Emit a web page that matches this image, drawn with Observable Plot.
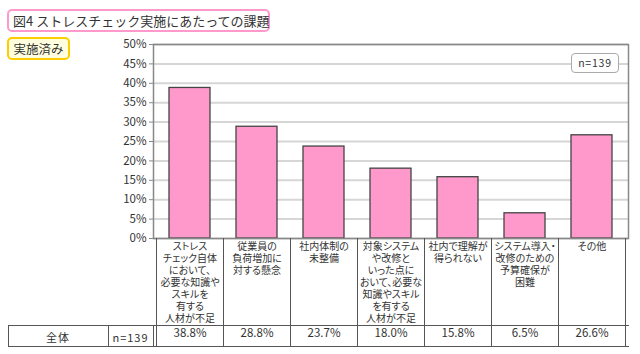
<!DOCTYPE html>
<html>
<head>
<meta charset="utf-8">
<script src="https://cdn.jsdelivr.net/npm/d3@7"></script>
<script src="https://cdn.jsdelivr.net/npm/@observablehq/plot@0.6"></script>
<style>
  html, body { margin: 0; padding: 0; background: #fff; }
  #wrap { position: relative; width: 640px; height: 354px; overflow: hidden; font-family: "Noto Sans CJK JP", sans-serif; color: #333; }
  #wrap svg { position: absolute; left: 0; top: 0; }
  .title { position: absolute; left: 7px; top: 9px; width: 255px; height: 19px; border: 2px solid #ff99cc; border-radius: 5px; background: #fff; font-size: 13px; line-height: 19px; padding-left: 4px; color: #333; white-space: nowrap; }
  .badge { position: absolute; left: 7px; top: 37px; width: 59px; height: 19px; border: 2px solid #ffcc00; border-radius: 5px; background: #ffffe0; font-size: 12.5px; line-height: 19px; text-align: center; color: #333; }
  .nbox { position: absolute; left: 571px; top: 53px; width: 46px; height: 18px; border: 1.5px solid #aaa; border-radius: 4px; background: #fff; font-size: 10.5px; line-height: 18px; text-align: center; color: #333; letter-spacing: 0.8px; }
</style>
</head>
<body>
<div id="wrap"></div>
<script>
const titleText = "図4 ストレスチェック実施にあたっての課題";
const badgeText = "実施済み";
const nText = "n=139";
const categories = [
  "ストレス\nチェック自体\nにおいて、\n必要な知識や\nスキルを\n有する\n人材が不足",
  "従業員の\n負荷増加に\n対する懸念",
  "社内体制の\n未整備",
  "対象システム\nや改修と\nいった点に\nおいて、必要な\n知識やスキル\nを有する\n人材が不足",
  "社内で理解が\n得られない",
  "システム導入・\n改修のための\n予算確保が\n困難",
  "その他"
];
const values = [38.8, 28.8, 23.7, 18.0, 15.8, 6.5, 26.6];
const yTicks = [0, 5, 10, 15, 20, 25, 30, 35, 40, 45, 50];
const rowLabel = "全体";
const rowN = "n=139";

const data = categories.map((c, i) => ({cat: c, value: values[i]}));

// table geometry (pixels relative to frame bottom)
const ROW_TOP = 87, ROW_H = 21, TABLE_LEFT = 8, NCOL_LEFT = 108;

function tableMark(index, scales, values_, dims) {
  const x = scales.x;
  const bw = x.bandwidth ? x.bandwidth() : (x(categories[1]) - x(categories[0]));
  const y0 = dims.height - dims.marginBottom;
  const left = dims.marginLeft, right = dims.width - dims.marginRight;
  const root = d3.create("svg:g");
  const g = root.append("g").attr("stroke", "#555").attr("stroke-width", 1).attr("fill", "none").attr("shape-rendering", "crispEdges");
  const edges = categories.map(c => x(c)).concat([x(categories[categories.length - 1]) + bw]);
  edges.forEach(e => {
    g.append("line").attr("x1", Math.round(e) + 0.5).attr("x2", Math.round(e) + 0.5).attr("y1", y0).attr("y2", y0 + ROW_TOP + ROW_H);
  });
  [y0 + ROW_TOP, y0 + ROW_TOP + ROW_H].forEach(yy => {
    g.append("line").attr("x1", TABLE_LEFT).attr("x2", right + 0.5).attr("y1", yy + 0.5).attr("y2", yy + 0.5);
  });
  [TABLE_LEFT, NCOL_LEFT, left].forEach(xx => {
    g.append("line").attr("x1", xx + 0.5).attr("x2", xx + 0.5).attr("y1", y0 + ROW_TOP).attr("y2", y0 + ROW_TOP + ROW_H);
  });
  const t = root.append("g").attr("fill", "#333").attr("stroke", "none").attr("font-size", 11).attr("text-anchor", "middle").attr("dominant-baseline", "central");
  t.append("text").attr("x", (TABLE_LEFT + NCOL_LEFT) / 2).attr("y", y0 + ROW_TOP + ROW_H / 2 + 1).attr("letter-spacing", "1px").text(rowLabel);
  t.append("text").attr("x", (NCOL_LEFT + left) / 2).attr("y", y0 + ROW_TOP + ROW_H / 2 + 1).attr("letter-spacing", "1px").text(rowN);
  return root.node();
}

const chart = Plot.plot({
  width: 640,
  height: 354,
  marginLeft: 153,
  marginRight: 12,
  marginTop: 44,
  marginBottom: 116,
  style: {fontFamily: "'Noto Sans CJK JP', sans-serif", fontSize: "11px", color: "#333", background: "transparent", fontFeatureSettings: "'palt'"},
  x: {domain: categories, padding: 0, axis: null},
  y: {domain: [0, 50], axis: null},
  marks: [
    Plot.gridY(yTicks, {stroke: "#d6d6d6", strokeWidth: 2, strokeOpacity: 1}),
    Plot.barY(data, {x: "cat", y: "value", fill: "#ff99cc", stroke: "#444", strokeWidth: 1.3, insetLeft: 13, insetRight: 13}),
    Plot.frame({stroke: "#888", strokeWidth: 1.5}),
    Plot.axisY(yTicks, {tickFormat: d => d + "%", tickSize: 4, tickPadding: 3, stroke: "#888", fill: "#333", label: null, fontSize: 11.5}),
    tableMark,
    Plot.text(data, {x: "cat", text: "cat", frameAnchor: "bottom", lineAnchor: "top", dy: 2.5, lineHeight: 1.2, fontSize: 10, fill: "#333"}),
    Plot.text(data, {x: "cat", text: d => d.value.toFixed(1) + "%", frameAnchor: "bottom", dy: ROW_TOP + ROW_H / 2 + 1, fontSize: 11.5, fill: "#333"})
  ]
});

const wrap = document.getElementById("wrap");
wrap.appendChild(chart);
const t = document.createElement("div"); t.className = "title"; t.textContent = titleText; wrap.appendChild(t);
const b = document.createElement("div"); b.className = "badge"; b.textContent = badgeText; wrap.appendChild(b);
const n = document.createElement("div"); n.className = "nbox"; n.textContent = nText; wrap.appendChild(n);
</script>
</body>
</html>
